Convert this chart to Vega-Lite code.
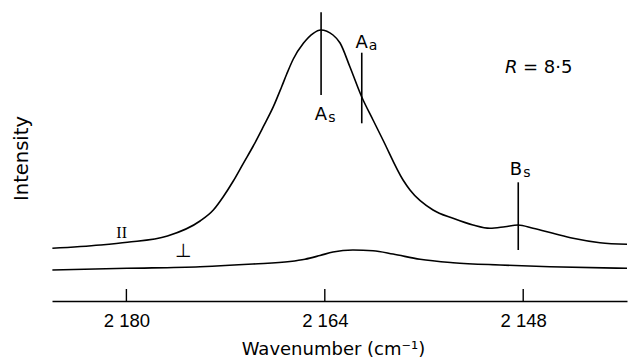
{
  "$schema": "https://vega.github.io/schema/vega-lite/v6.json",
  "width": 575,
  "height": 291,
  "autosize": {"type": "none"},
  "padding": {"left": 52, "top": 10, "right": 1, "bottom": 57},
  "background": "white",
  "config": {"view": {"stroke": null}, "axis": {"grid": false}},
  "datasets": {
    "curves": [
      {"series": "parallel", "w": 2185.97, "i": 52.7},
      {"series": "parallel", "w": 2182.10, "i": 56},
      {"series": "parallel", "w": 2179.92, "i": 58.7},
      {"series": "parallel", "w": 2176.69, "i": 65},
      {"series": "parallel", "w": 2174.06, "i": 80},
      {"series": "parallel", "w": 2172.99, "i": 91},
      {"series": "parallel", "w": 2172.19, "i": 104.3},
      {"series": "parallel", "w": 2171.38, "i": 120},
      {"series": "parallel", "w": 2170.57, "i": 137.7},
      {"series": "parallel", "w": 2169.77, "i": 155},
      {"series": "parallel", "w": 2168.96, "i": 174.3},
      {"series": "parallel", "w": 2168.15, "i": 194.3},
      {"series": "parallel", "w": 2167.48, "i": 214.3},
      {"series": "parallel", "w": 2167.07, "i": 227},
      {"series": "parallel", "w": 2166.54, "i": 242},
      {"series": "parallel", "w": 2165.73, "i": 257.7},
      {"series": "parallel", "w": 2164.93, "i": 267.7},
      {"series": "parallel", "w": 2164.33, "i": 271},
      {"series": "parallel", "w": 2163.34, "i": 266},
      {"series": "parallel", "w": 2162.77, "i": 258},
      {"series": "parallel", "w": 2161.97, "i": 234},
      {"series": "parallel", "w": 2161.02, "i": 204},
      {"series": "parallel", "w": 2160.11, "i": 181},
      {"series": "parallel", "w": 2159.31, "i": 161},
      {"series": "parallel", "w": 2157.69, "i": 121},
      {"series": "parallel", "w": 2157.13, "i": 111},
      {"series": "parallel", "w": 2155.27, "i": 91},
      {"series": "parallel", "w": 2153.66, "i": 82.7},
      {"series": "parallel", "w": 2152.05, "i": 76},
      {"series": "parallel", "w": 2150.68, "i": 72.7},
      {"series": "parallel", "w": 2149.47, "i": 74.3},
      {"series": "parallel", "w": 2148.42, "i": 76},
      {"series": "parallel", "w": 2147.21, "i": 72.7},
      {"series": "parallel", "w": 2145.60, "i": 67.7},
      {"series": "parallel", "w": 2143.98, "i": 62.7},
      {"series": "parallel", "w": 2141.81, "i": 58.3},
      {"series": "parallel", "w": 2139.63, "i": 56.7},
      {"series": "perpendicular", "w": 2185.97, "i": 31},
      {"series": "perpendicular", "w": 2179.95, "i": 32.7},
      {"series": "perpendicular", "w": 2174.06, "i": 34.3},
      {"series": "perpendicular", "w": 2169.79, "i": 37},
      {"series": "perpendicular", "w": 2166.81, "i": 39.5},
      {"series": "perpendicular", "w": 2165.60, "i": 41.8},
      {"series": "perpendicular", "w": 2164.39, "i": 45.5},
      {"series": "perpendicular", "w": 2163.34, "i": 49},
      {"series": "perpendicular", "w": 2161.73, "i": 51},
      {"series": "perpendicular", "w": 2160.11, "i": 50.3},
      {"series": "perpendicular", "w": 2158.50, "i": 47},
      {"series": "perpendicular", "w": 2156.32, "i": 41.7},
      {"series": "perpendicular", "w": 2153.66, "i": 38.3},
      {"series": "perpendicular", "w": 2149.87, "i": 36},
      {"series": "perpendicular", "w": 2145.84, "i": 34.3},
      {"series": "perpendicular", "w": 2139.63, "i": 32.7}
    ],
    "markers": [
      {"band": "As", "w": 2164.3, "i": 288.7, "i2": 206},
      {"band": "Aa", "w": 2161.02, "i": 248.3, "i2": 177.7},
      {"band": "Bs", "w": 2148.40, "i": 118.7, "i2": 51}
    ],
    "ticks": [
      {"w": 2180, "i": 0, "i2": 12},
      {"w": 2164, "i": 0, "i2": 12},
      {"w": 2148, "i": 0, "i2": 12}
    ],
    "bandLabels": [
      {"main": "A", "sub": "s", "w": 2163.81, "i": 181},
      {"main": "A", "sub": "a", "w": 2160.53, "i": 252.7},
      {"main": "B", "sub": "s", "w": 2148.08, "i": 126}
    ],
    "parLabel": [{"t": "II", "w": 2180.38, "i": 62.7}],
    "perpLabel": [{"t": "⊥", "w": 2175.41, "i": 44.3}],
    "ratioR": [{"t": "R", "w": 2149.47, "i": 228.3}],
    "ratioV": [{"t": "= 8·5", "w": 2148.02, "i": 228.3}]
  },
  "encoding": {
    "x": {
      "field": "w",
      "type": "quantitative",
      "scale": {"domain": [2139.63, 2186], "reverse": true, "nice": false, "zero": false},
      "axis": {
        "values": [2180, 2164, 2148],
        "format": "d",
        "labelExpr": "substring(datum.label,0,1) + ' ' + substring(datum.label,1)",
        "title": "Wavenumber (cm⁻¹)",
        "domainColor": "black",
        "domainWidth": 1.3,
        "ticks": false,
        "labelFont": "Liberation Sans",
        "labelFontSize": 18.5,
        "labelColor": "black",
        "labelBaseline": "alphabetic",
        "labelPadding": 25,
        "labelFlush": false,
        "titleFont": "DejaVu Sans",
        "titleFontSize": 18,
        "titleFontWeight": "normal",
        "titleColor": "black",
        "titleBaseline": "alphabetic",
        "titleAlign": "center",
        "titleX": 281,
        "titleY": 53
      }
    },
    "y": {
      "field": "i",
      "type": "quantitative",
      "scale": {"domain": [0, 291], "nice": false, "zero": false},
      "axis": {
        "domain": false,
        "ticks": false,
        "labels": false,
        "title": "Intensity",
        "titleFont": "DejaVu Sans",
        "titleFontSize": 19.5,
        "titleFontWeight": "normal",
        "titleColor": "black",
        "titleAngle": 270,
        "titleAlign": "center",
        "titleBaseline": "alphabetic",
        "titleX": -25,
        "titleY": 148
      }
    }
  },
  "layer": [
    {
      "data": {"name": "curves"},
      "mark": {"type": "line", "interpolate": "monotone", "stroke": "black", "strokeWidth": 1.6},
      "encoding": {"detail": {"field": "series"}}
    },
    {
      "data": {"name": "markers"},
      "mark": {"type": "rule", "stroke": "black", "strokeWidth": 1.6},
      "encoding": {"y2": {"field": "i2"}}
    },
    {
      "data": {"name": "ticks"},
      "mark": {"type": "rule", "stroke": "black", "strokeWidth": 1.4},
      "encoding": {"y2": {"field": "i2"}}
    },
    {
      "data": {"name": "bandLabels"},
      "mark": {"type": "text", "font": "DejaVu Sans", "fontSize": 18, "align": "right", "baseline": "alphabetic", "color": "black"},
      "encoding": {"text": {"field": "main"}}
    },
    {
      "data": {"name": "bandLabels"},
      "mark": {"type": "text", "font": "DejaVu Sans", "fontSize": 14, "align": "left", "baseline": "alphabetic", "dx": 1, "dy": 2, "color": "black"},
      "encoding": {"text": {"field": "sub"}}
    },
    {
      "data": {"name": "parLabel"},
      "mark": {"type": "text", "font": "Liberation Serif", "fontSize": 16, "align": "center", "baseline": "alphabetic", "color": "black"},
      "encoding": {"text": {"field": "t"}}
    },
    {
      "data": {"name": "perpLabel"},
      "mark": {"type": "text", "font": "DejaVu Sans", "fontSize": 19, "align": "center", "baseline": "alphabetic", "color": "black"},
      "encoding": {"text": {"field": "t"}}
    },
    {
      "data": {"name": "ratioR"},
      "mark": {"type": "text", "font": "DejaVu Sans", "fontStyle": "italic", "fontSize": 18, "align": "left", "baseline": "alphabetic", "color": "black"},
      "encoding": {"text": {"field": "t"}}
    },
    {
      "data": {"name": "ratioV"},
      "mark": {"type": "text", "font": "DejaVu Sans", "fontSize": 18, "align": "left", "baseline": "alphabetic", "color": "black"},
      "encoding": {"text": {"field": "t"}}
    }
  ]
}
